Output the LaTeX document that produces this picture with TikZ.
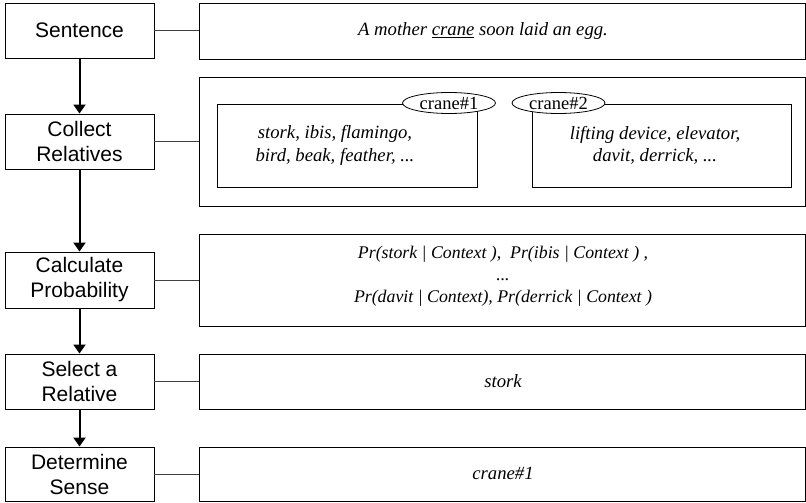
\documentclass[tikz,border=0pt]{standalone}
\usepackage{fontspec}
\setmainfont{Liberation Serif}
\newfontfamily\lsans{Liberation Sans}
\usetikzlibrary{arrows.meta,shapes.geometric}
\begin{document}
\begin{tikzpicture}[x=1pt,y=-1pt,
  stepbox/.style={draw=black,line width=0.9pt,minimum width=149pt,inner sep=0pt,align=center,
    font=\lsans\fontsize{21}{25}\selectfont},
  panel/.style={draw=black,line width=0.9pt,inner sep=0pt},
  itext/.style={align=center,inner sep=0pt,font=\fontsize{18.7}{22.5}\selectfont\itshape},
  tag/.style={draw=black,line width=0.8pt,ellipse,minimum width=93pt,minimum height=21pt,inner sep=0pt,
    font=\fontsize{18.5}{20}\selectfont},
  link/.style={draw=black!75,line width=0.8pt},
  flow/.style={draw=black,line width=2pt,-{Triangle[length=9pt,width=12pt]}}]
\useasboundingbox (0,0) rectangle (806,503);
% left step boxes
\node[stepbox,minimum height=55pt] (s1) at (79.5,30.5) {Sentence};
\node[stepbox,minimum height=55pt] (s2) at (79.5,141.5) {Collect\\Relatives};
\node[stepbox,minimum height=56pt] (s3) at (79.5,280) {Calculate\\Probability};
\node[stepbox,minimum height=55pt] (s4) at (79.5,381.5) {Select a\\Relative};
\node[stepbox,minimum height=54pt] (s5) at (79.5,474) {Determine\\Sense};
% right panels
\node[panel,minimum width=606pt,minimum height=56pt] (r1) at (502,31) {};
\node[panel,minimum width=606pt,minimum height=129pt] (r2) at (502,141.5) {};
\node[panel,minimum width=606pt,minimum height=92pt] (r3) at (502,280) {};
\node[panel,minimum width=606pt,minimum height=55pt] (r4) at (502,381.5) {};
\node[panel,minimum width=606pt,minimum height=54pt] (r5) at (502,474) {};
% inner boxes
\node[panel,minimum width=260pt,minimum height=83pt] (b1) at (347,145.5) {};
\node[panel,minimum width=259pt,minimum height=83pt] (b2) at (661.5,145.5) {};
\node[tag,fill=white] (e1) at (449,103) {crane\#1};
\node[tag,fill=white] (e2) at (558.5,103) {crane\#2};
% texts
\node[itext] (t1) at (483,31) {A mother \underline{crane} soon laid an egg.};
\node[itext] (t2a) at (335,145.5) {stork, ibis, flamingo,\\bird, beak, feather, ...};
\node[itext] (t2b) at (655,145.5) {lifting device, elevator,\\davit, derrick, ...};
\node[itext,font=\fontsize{17.8}{22}\selectfont\itshape] (t3) at (503,276) {Pr(stork | Context ),\ \ Pr(ibis | Context ) ,\\...\\Pr(davit | Context), Pr(derrick | Context )};
\node[itext] (t4) at (503,381) {stork};
\node[itext] (t5) at (503,473) {crane\#1};
% connectors
\draw[link] (s1.east) -- (s1.east -| r1.west);
\draw[link] (s2.east) -- (s2.east -| r2.west);
\draw[link] (s3.east) -- (s3.east -| r3.west);
\draw[link] (s4.east) -- (s4.east -| r4.west);
\draw[link] (s5.east) -- (s5.east -| r5.west);
\draw[flow] (s1.south) -- (s2.north);
\draw[flow] (s2.south) -- (s3.north);
\draw[flow] (s3.south) -- (s4.north);
\draw[flow] (s4.south) -- (s5.north);
\end{tikzpicture}
\end{document}
